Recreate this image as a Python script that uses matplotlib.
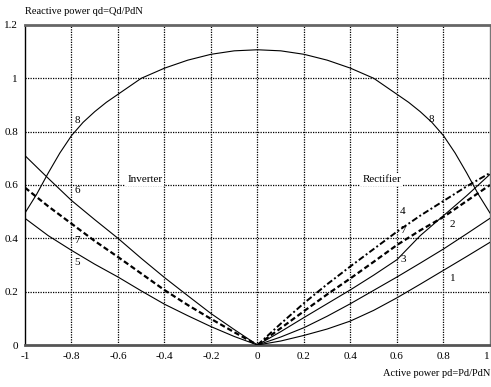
import numpy as np
import matplotlib.pyplot as plt

# curve 8 (limit circle)
p8 = [-1, -0.95, -0.9, -0.85, -0.8, -0.75, -0.7, -0.65, -0.6, -0.5, -0.4, -0.3, -0.2, -0.1, 0,
      0.1, 0.2, 0.3, 0.4, 0.5, 0.6, 0.65, 0.7, 0.75, 0.8, 0.85, 0.9, 0.95, 1]
q8 = [0.495, 0.565, 0.645, 0.72, 0.785, 0.835, 0.875, 0.91, 0.94, 1.0, 1.038, 1.068, 1.09, 1.103, 1.107,
      1.103, 1.09, 1.068, 1.038, 1.0, 0.94, 0.91, 0.875, 0.835, 0.785, 0.72, 0.645, 0.565, 0.495]

# inverter side
p_inv = [-1, -0.9, -0.8, -0.7, -0.6, -0.5, -0.4, -0.3, -0.2, -0.1, 0]
q5 = [0.475, 0.41, 0.355, 0.303, 0.255, 0.203, 0.153, 0.11, 0.069, 0.032, 0]
q6 = [0.71, 0.625, 0.542, 0.47, 0.40, 0.325, 0.253, 0.185, 0.118, 0.058, 0]
q7i = [0.59, 0.52, 0.455, 0.39, 0.33, 0.268, 0.206, 0.15, 0.098, 0.048, 0]

# rectifier side
p_rec = [0, 0.1, 0.2, 0.3, 0.4, 0.5, 0.6, 0.7, 0.8, 0.9, 1]
q1 = [0, 0.015, 0.036, 0.06, 0.09, 0.13, 0.177, 0.228, 0.28, 0.332, 0.385]
q2 = [0, 0.03, 0.065, 0.108, 0.155, 0.205, 0.255, 0.307, 0.36, 0.417, 0.475]
q3 = [0, 0.05, 0.103, 0.155, 0.207, 0.262, 0.32, 0.41, 0.485, 0.56, 0.64]
q4 = [0, 0.08, 0.157, 0.228, 0.295, 0.36, 0.425, 0.485, 0.54, 0.595, 0.645]
q7r = [0, 0.063, 0.127, 0.19, 0.25, 0.312, 0.375, 0.43, 0.48, 0.54, 0.60]

xticks = [-1, -0.8, -0.6, -0.4, -0.2, 0, 0.2, 0.4, 0.6, 0.8, 1]
xticklabels = ['-1', '-0.8', '-0.6', '-0.4', '-0.2', '0', '0.2', '0.4', '0.6', '0.8', '1']
yticks = [0, 0.2, 0.4, 0.6, 0.8, 1, 1.2]
yticklabels = ['0', '0.2', '0.4', '0.6', '0.8', '1', '1.2']

# curve numbers: (text, x, y)
numbers = [('8', -0.775, 0.84), ('8', 0.75, 0.845), ('6', -0.775, 0.58), ('7', -0.775, 0.39),
           ('5', -0.775, 0.31), ('4', 0.625, 0.50), ('7', 0.625, 0.43), ('3', 0.625, 0.32),
           ('2', 0.84, 0.45), ('1', 0.84, 0.25)]

plt.rcParams['font.family'] = ['Liberation Serif', 'DejaVu Serif']

fig = plt.figure(figsize=(4.91, 3.87), dpi=100)
ax = fig.add_axes([0.0509, 0.1085, 0.947, 0.827])

for x in xticks[1:-1]:
    ax.axvline(x, color='black', lw=0.9, ls=(0, (1, 1)), zorder=1)
for y in yticks[1:-1]:
    ax.axhline(y, color='black', lw=0.9, ls=(0, (1, 1)), zorder=1)

ax.plot(p8, q8, color='black', lw=0.8, zorder=3)
ax.plot(p_inv, q5, color='black', lw=0.8, zorder=3)
ax.plot(p_inv, q6, color='black', lw=0.8, zorder=3)
ax.plot(p_inv, q7i, color='black', lw=1.6, ls=(0, (2.4, 1.3)), zorder=3)
ax.plot(p_rec, q1, color='black', lw=0.8, zorder=3)
ax.plot(p_rec, q2, color='black', lw=0.8, zorder=3)
ax.plot(p_rec, q3, color='black', lw=0.8, zorder=3)
ax.plot(p_rec, q7r, color='black', lw=1.6, ls=(0, (2.4, 1.3)), zorder=3)
ax.plot(p_rec, q4, color='black', lw=1.4, ls=(0, (3.2, 1.3, 1, 1.3)), zorder=3)

for t, x, y in numbers:
    ax.text(x, y, t, fontsize=8, ha='center', va='center', zorder=4)

box = dict(facecolor='white', edgecolor='none', pad=1.5)
ax.text(-0.485, 0.62, 'Inverter', fontsize=8, ha='center', va='center', bbox=box, zorder=4)
ax.text(0.535, 0.62, 'Rectifier', fontsize=8, ha='center', va='center', bbox=box, zorder=4)

ax.set_xlim(-1, 1)
ax.set_ylim(0, 1.2)
ax.set_xticks(xticks)
ax.set_xticklabels(xticklabels)
ax.set_yticks(yticks)
ax.set_yticklabels(yticklabels)
ax.tick_params(length=0, labelsize=8, pad=5)
ax.get_xticklabels()[-1].set_horizontalalignment('right')

ax.spines['bottom'].set_color('#555555')
ax.spines['bottom'].set_linewidth(2)
ax.spines['top'].set_color('#666666')
ax.spines['top'].set_linewidth(2)
ax.spines['left'].set_linewidth(1)
ax.spines['right'].set_color('#777777')
ax.spines['right'].set_linewidth(1)

fig.text(25 / 491, 1 - 12 / 387, 'Reactive power qd=Qd/PdN', fontsize=7.5, ha='left', va='center')
fig.text(490 / 491, 1 - 374 / 387, 'Active power pd=Pd/PdN', fontsize=7.5, ha='right', va='center')

fig.savefig('out.png', dpi=100)
